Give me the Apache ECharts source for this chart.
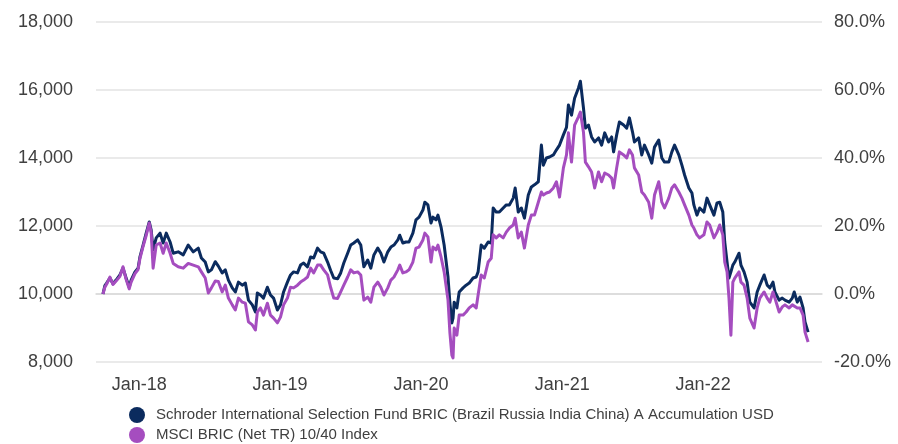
<!DOCTYPE html>
<html>
<head>
<meta charset="utf-8">
<script src="https://cdn.jsdelivr.net/npm/echarts@6/dist/echarts.min.js"></script>
<style>
html,body{margin:0;padding:0;background:#fff;}
#chart{width:898px;height:444px;}
</style>
</head>
<body>
<div id="chart"></div>
<script>
// Start date of the series (5-year window)
const startDate = [2017, 8, 29];
// Day offsets from the start date for each reading
const dayOffsets = [
  0,5,10,18,26,34,44,52,60,68,73,83,91,96,104,112,120,125,130,138,148,156,164,174,182,195,208,221,234,247,
  255,265,273,281,291,299,309,317,325,335,343,351,361,369,377,387,395,400,408,416,426,434,442,452,460,468,478,486,494,504,
  512,520,530,538,546,556,564,572,582,590,598,608,616,624,634,642,650,660,668,676,686,694,702,712,720,728,738,746,754,764,
  769,777,785,793,803,811,819,829,834,842,850,855,863,868,876,884,894,899,904,907,910,917,923,933,941,949,959,967,972,980,
  988,998,1006,1011,1019,1027,1037,1045,1053,1063,1068,1076,1084,1092,1102,1110,1118,1128,1136,1141,1149,1157,1167,1175,1183,1193,1201,1206,1214,1222,
  1232,1237,1245,1250,1258,1266,1274,1284,1292,1300,1310,1318,1323,1331,1338,1349,1357,1364,1372,1377,1388,1396,1403,1414,1422,1429,1440,1448,1455,1466,
  1474,1481,1492,1500,1507,1518,1526,1531,1539,1546,1557,1565,1572,1583,1591,1598,1606,1611,1617,1622,1627,1632,1637,1648,1653,1661,1669,1676,1687,1695,
  1702,1713,1721,1728,1736,1741,1752,1760,1767,1778,1786,1791,1799,1806,1814,1819,1827
];
// Schroder ISF BRIC A Acc USD (growth of 10,000)
const fundValues = [
  10000,10250,10330,10470,10300,10410,10560,10760,10470,10200,10410,10650,10760,11100,11440,11790,12120,11880,11300,11650,11790,11500,11790,11530,11200,11240,11150,11440,11240,11350,
  11060,10940,10650,10710,10950,10820,10620,10710,10410,10180,10060,10350,10260,10320,9820,9680,9470,10030,9970,9880,10200,9970,9880,9530,9680,10060,10350,10560,10650,10620,
  10850,10910,10800,11090,11060,11350,11240,11200,10940,10690,10470,10450,10620,10910,11200,11440,11500,11590,11440,10800,11000,10760,11150,11350,11200,10940,11240,11380,11440,11590,
  11730,11500,11530,11530,11790,12180,12260,12470,12700,12620,12090,12260,12180,12320,11970,11440,10500,9730,9150,9290,9760,9590,10060,10180,10260,10320,10470,10500,10650,11440,
  11350,11530,11500,12530,12410,12410,12530,12620,12620,12820,13120,12410,12530,12230,12910,13150,13210,13300,14380,13790,14000,14030,14090,14240,14380,14680,14900,15560,15260,15760,
  16060,16260,15470,14880,14970,14620,14470,14590,14380,14740,14470,14620,14180,14680,15060,14970,14880,15180,14770,14470,14590,14090,14380,14090,13850,14320,14530,14000,13880,13880,
  14180,14380,14090,13790,13500,13120,12970,12620,12320,12530,12410,12820,12620,12320,12680,12700,12410,11530,10940,10470,10650,10850,10940,11200,10850,10650,10350,9760,9590,10060,
  10260,10560,10260,10180,10350,10060,9820,9880,9820,9760,9880,10060,9760,9910,9590,9180,8880
];
// MSCI BRIC (Net TR) 10/40 Index (growth of 10,000)
const indexValues = [
  10000,10200,10300,10500,10280,10380,10520,10800,10430,10150,10350,10600,10720,11050,11400,11720,12090,11800,10760,11440,11500,11200,11500,11200,10900,10800,10760,10900,10850,10800,
  10650,10470,10030,10180,10380,10370,10060,10260,9880,9680,9530,9880,9760,9730,9180,9090,8940,9470,9590,9380,9730,9380,9290,9150,9320,9680,9880,10200,10180,10260,
  10350,10410,10500,10760,10620,10850,10850,10710,10560,10190,9880,9870,10060,10260,10500,10710,10620,10650,10560,9820,9910,9760,10200,10350,10200,9970,10180,10410,10500,10710,
  10850,10620,10650,10710,10940,11350,11380,11590,11790,11680,10940,11380,11300,11440,11090,10650,9820,8850,8200,8120,9000,8790,9380,9380,9470,9590,9680,9590,9970,10560,
  10470,10940,11050,11740,11650,11740,11650,11820,11940,12030,12230,11650,11820,11350,12030,12320,12320,12700,13000,12910,12970,13000,13120,13300,12850,13710,14090,14740,13880,14970,
  15210,15350,14760,13880,13740,13590,13120,13590,13300,13560,13500,13410,13120,13710,14180,14090,14000,14240,14090,13710,13500,13000,12910,12700,12230,12910,13300,12700,12530,12820,
  13120,13210,13000,12820,12620,12320,12030,11940,11740,11650,11740,12120,12030,11650,11820,12030,11740,10940,10650,9880,8790,10350,10470,10650,10350,10260,9880,9290,9000,9590,
  9880,10060,9880,9760,10060,9880,9470,9620,9680,9590,9680,9730,9590,9590,9380,8880,8590
];
const seriesNames = [
  'Schroder International Selection Fund BRIC (Brazil Russia India China) A Accumulation USD',
  'MSCI BRIC (Net TR) 10/40 Index'
];
const leftTicks = {min: 8000, max: 18000, interval: 2000};
const rightTicks = {min: -20, max: 80, interval: 20};
const axisMin = [2017, 8, 11];
const axisMax = [2022, 10, 5];

const DAY = 86400000;
const t0 = new Date(startDate[0], startDate[1], startDate[2]).getTime();
const fundData = dayOffsets.map((d, i) => [t0 + d * DAY, fundValues[i]]);
const indexData = dayOffsets.map((d, i) => [t0 + d * DAY, indexValues[i]]);

const labelColor = '#404040';
const font = '"Liberation Sans", Arial, sans-serif';

const chart = echarts.init(document.getElementById('chart'), null, {renderer: 'canvas'});
chart.setOption({
  animation: false,
  backgroundColor: '#ffffff',
  grid: {left: 96, right: 76, top: 22, bottom: 82},
  legend: {
    orient: 'vertical',
    left: 129,
    top: 407,
    padding: 0,
    itemGap: 4,
    itemWidth: 16,
    itemHeight: 16,
    icon: 'circle',
    textStyle: {fontSize: 15, color: labelColor, fontFamily: font, padding: [0, 0, 0, 6]},
    data: seriesNames
  },
  xAxis: {
    type: 'time',
    min: new Date(axisMin[0], axisMin[1], axisMin[2]).getTime(),
    max: new Date(axisMax[0], axisMax[1], axisMax[2]).getTime(),
    axisLine: {show: true, lineStyle: {color: '#d9d9d9', width: 1.5}},
    axisTick: {show: false},
    splitLine: {show: false},
    axisLabel: {
      showMinLabel: false,
      showMaxLabel: false,
      margin: 14,
      color: labelColor,
      fontSize: 18,
      fontFamily: font,
      formatter: function (val) {
        const d = new Date(val);
        if (d.getMonth() === 0 && d.getDate() === 1) {
          return 'Jan-' + String(d.getFullYear()).slice(2);
        }
        return '';
      }
    }
  },
  yAxis: [
    {
      type: 'value',
      min: leftTicks.min, max: leftTicks.max, interval: leftTicks.interval,
      axisLine: {show: false}, axisTick: {show: false},
      splitLine: {show: true, lineStyle: {color: '#e3e3e3', width: 1.5}},
      axisLabel: {
        margin: 23, color: labelColor, fontSize: 18, fontFamily: font,
        formatter: v => v.toLocaleString('en-US')
      }
    },
    {
      type: 'value',
      min: rightTicks.min, max: rightTicks.max, interval: rightTicks.interval,
      axisLine: {show: false}, axisTick: {show: false}, splitLine: {show: false},
      axisLabel: {
        margin: 12, color: labelColor, fontSize: 18, fontFamily: font,
        formatter: v => v.toFixed(1) + '%'
      }
    }
  ],
  series: [
    {
      name: seriesNames[0], type: 'line', yAxisIndex: 0, data: fundData,
      showSymbol: false, symbol: 'none',
      lineStyle: {color: '#0b2b5e', width: 3, join: 'round'},
      itemStyle: {color: '#0b2b5e'}
    },
    {
      name: seriesNames[1], type: 'line', yAxisIndex: 0, data: indexData,
      showSymbol: false, symbol: 'none',
      lineStyle: {color: '#a54dbf', width: 3, join: 'round'},
      itemStyle: {color: '#a54dbf'}
    }
  ]
});
</script>
</body>
</html>
